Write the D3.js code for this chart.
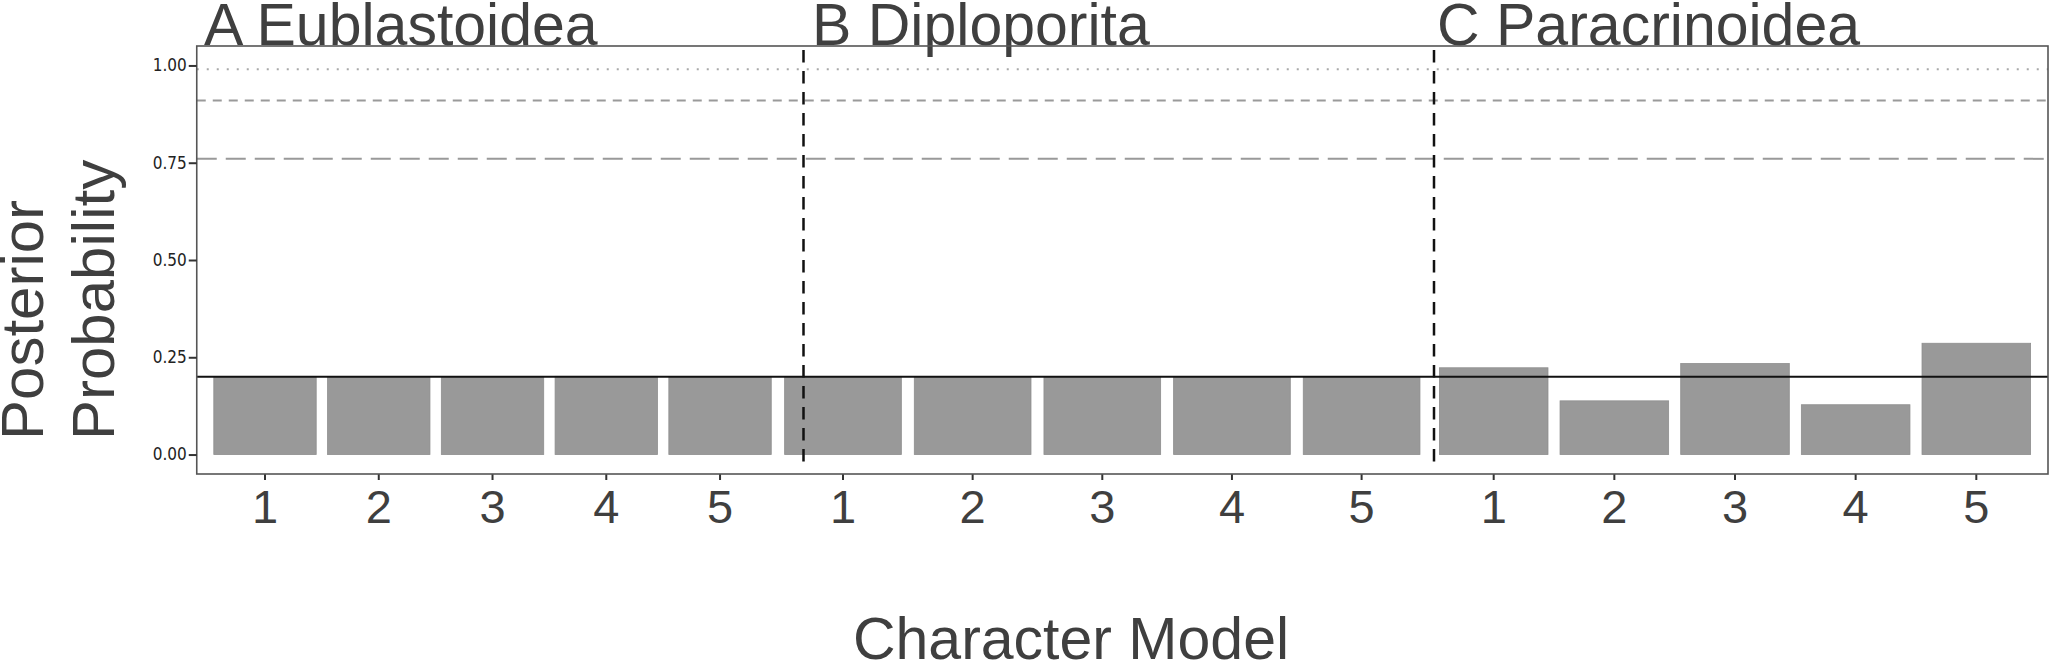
<!DOCTYPE html>
<html>
<head>
<meta charset="utf-8">
<script src="https://cdn.jsdelivr.net/npm/d3@7"></script>
<style>
  body { margin: 0; background: #fff; }
  svg text { font-family: "Liberation Sans", Arial, sans-serif; }
  .ytick { font-family: "Liberation Sans Narrow", "DejaVu Sans Condensed", "Liberation Sans", sans-serif; font-stretch: condensed; }
</style>
</head>
<body>
<svg id="chart" width="2050" height="662"></svg>
<script>
// --------------------------------------------
// DONNEES
// --------------------------------------------
const panelTitles = ["A Eublastoidea", "B Diploporita", "C Paracrinoidea"];
const models = ["1", "2", "3", "4", "5"];
const eublastoidea = [0.2, 0.2, 0.2, 0.201, 0.199];
const diploporita = [0.199, 0.199, 0.199, 0.199, 0.199];
const paracrinoidea = [0.223, 0.138, 0.234, 0.128, 0.286];
const yTicks = [0, 0.25, 0.5, 0.75, 1];
const thresholds = [0.99, 0.91, 0.76];
const uniformPrior = 0.2;

const seriesByPanel = [eublastoidea, diploporita, paracrinoidea];

// --------------------------------------------
// MISE EN PAGE
// --------------------------------------------
const plotTop = 46, plotBottom = 474;
const plotLeft = 196.75, plotRight = 2048;
// etendue x de chaque panneau (les panneaux se chevauchent un peu)
const panelRanges = [[196.75, 788.3], [765.2, 1439.4], [1421.3, 2048.7]];
const titleX = [204, 812, 1437];
const separators = [803.5, 1434];

const ink = "#3f3f3f";
const svg = d3.select("#chart");

const y = d3.scaleLinear().domain([-0.05, 1.05]).range([plotBottom, plotTop]);

// barres
seriesByPanel.forEach((values, i) => {
  const x = d3.scaleBand()
    .domain(models)
    .range(panelRanges[i])
    .paddingInner(0.1)
    .paddingOuter(0.15);

  const g = svg.append("g").attr("class", "panel-" + i);

  g.selectAll("rect")
    .data(values)
    .enter()
    .append("rect")
    .attr("x", (d, j) => x(models[j]))
    .attr("width", x.bandwidth())
    .attr("y", (d) => y(d))
    .attr("height", (d) => y(0) - y(d))
    .attr("fill", "#999999")
    .attr("stroke", "#8e8e8e")
    .attr("stroke-width", 0.8);

  // axe x du panneau
  const xAxis = d3.axisBottom(x).tickSize(6).tickPadding(9);
  const ax = g.append("g")
    .attr("transform", `translate(0,${plotBottom})`)
    .call(xAxis);
  ax.select(".domain").remove();
  ax.selectAll(".tick line").attr("stroke", "#333").attr("stroke-width", 2);
  ax.selectAll(".tick text")
    .attr("font-size", 47)
    .attr("fill", ink)
    .attr("dy", null)
    .attr("y", 49);

  // titre du panneau
  svg.append("text")
    .attr("x", titleX[i])
    .attr("y", 45)
    .attr("font-size", 59)
    .attr("fill", ink)
    .text(panelTitles[i]);
});

// lignes de seuil
const dashes = ["2,8", "9,7", "20,9"];
const greys = ["#a8a8a8", "#9a9a9a", "#999999"];
svg.append("g")
  .selectAll("line")
  .data(thresholds)
  .enter()
  .append("line")
  .attr("x1", plotLeft)
  .attr("x2", plotRight)
  .attr("y1", (d) => y(d))
  .attr("y2", (d) => y(d))
  .attr("stroke", (d, i) => greys[i])
  .attr("stroke-width", 2)
  .attr("stroke-dasharray", (d, i) => dashes[i]);

// ligne de probabilite uniforme
svg.append("line")
  .attr("x1", plotLeft)
  .attr("x2", plotRight)
  .attr("y1", y(uniformPrior))
  .attr("y2", y(uniformPrior))
  .attr("stroke", "#111")
  .attr("stroke-width", 2.2);

// separateurs verticaux
svg.append("g")
  .selectAll("line")
  .data(separators)
  .enter()
  .append("line")
  .attr("x1", (d) => d)
  .attr("x2", (d) => d)
  .attr("y1", 50)
  .attr("y2", 467)
  .attr("stroke", "#111")
  .attr("stroke-width", 2.5)
  .attr("stroke-dasharray", "12.5,8.5");

// cadre
svg.append("rect")
  .attr("x", plotLeft)
  .attr("y", plotTop)
  .attr("width", plotRight - plotLeft)
  .attr("height", plotBottom - plotTop)
  .attr("fill", "none")
  .attr("stroke", "#555")
  .attr("stroke-width", 1.6);

// axe y
const yAxis = d3.axisLeft(y).tickValues(yTicks).tickFormat(d3.format(".2f")).tickSize(8).tickPadding(2);
const ay = svg.append("g")
  .attr("transform", `translate(${plotLeft},0)`)
  .call(yAxis);
ay.select(".domain").remove();
ay.selectAll(".tick line").attr("stroke", "#333").attr("stroke-width", 2);
ay.selectAll(".tick text")
  .attr("class", "ytick")
  .attr("font-size", 17)
  .attr("fill", "#222");

// titres des axes
svg.append("text")
  .attr("transform", "translate(43,440) rotate(-90)")
  .attr("font-size", 60)
  .attr("fill", ink)
  .text("Posterior");
svg.append("text")
  .attr("transform", "translate(114,440) rotate(-90)")
  .attr("font-size", 60)
  .attr("fill", ink)
  .text("Probability");

svg.append("text")
  .attr("x", 1071)
  .attr("y", 659)
  .attr("text-anchor", "middle")
  .attr("font-size", 59)
  .attr("fill", ink)
  .text("Character Model");
</script>
</body>
</html>
